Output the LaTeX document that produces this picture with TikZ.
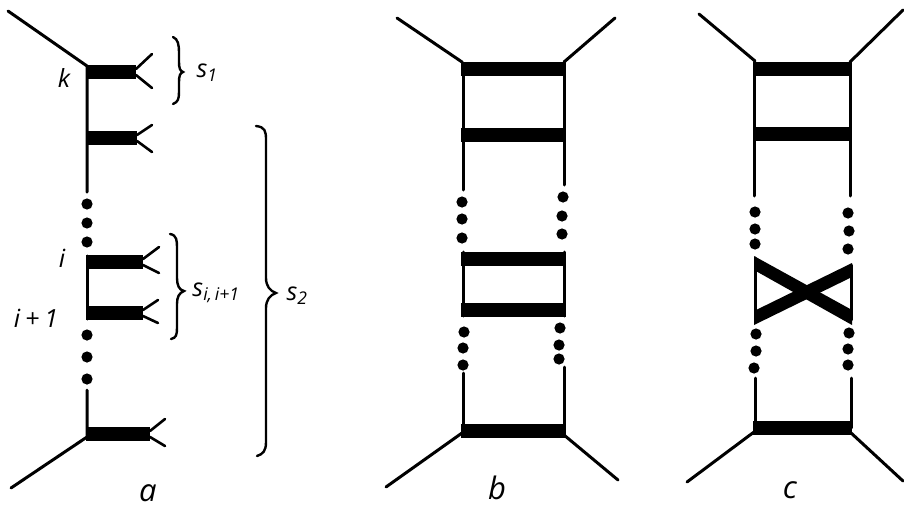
\documentclass[tikz,border=0pt]{standalone}
\usepackage{amsmath, amssymb}
\usepackage{fontspec}
\setmainfont{Open Sans}
\usepackage{tikz}
\usetikzlibrary{calc}

\tikzset{
  leg/.style={line width=3pt, line cap=round},
  rung/.style={line width=13.5pt},
  prong/.style={line width=2.6pt, line cap=round},
  bracket/.style={line width=2.4pt, line cap=round},
  lbl/.style={inner sep=0pt, font=\fontsize{25}{30}\selectfont\itshape},
  caplbl/.style={inner sep=0pt, font=\fontsize{31}{34}\selectfont\itshape},
}

\begin{document}
\begin{tikzpicture}[x=1pt, y=-1pt]
  \useasboundingbox (0,0) rectangle (904,511);
  % ---- diagram a: open ladder with forks
  \coordinate (atl) at (8,11);
  \coordinate (atop) at (87,66);
  \coordinate (amid) at (87,192);
  \coordinate (ai) at (87,256);
  \coordinate (aj) at (87,319);
  \coordinate (alow) at (87,390);
  \coordinate (abot) at (87,437);
  \coordinate (abl) at (11,488);
  \draw[leg] (atl) -- (atop) -- (amid);
  \draw[leg] (ai) -- (aj);
  \draw[leg] (alow) -- (abot) -- (abl);
  % rungs: y, right end, fork tips
  \foreach \name/\y/\xr/\xf/\yu/\yd in {r1/72/136/152/54/88, r2/138/137/152/125/152,
      r3/262/143/159/247/273, r4/313/143/158/300/323, r5/434/150/165/419/446}{
    \coordinate (\name l) at (86,\y);
    \coordinate (\name r) at (\xr,\y);
    \draw[rung] (\name l) -- (\name r);
    \draw[prong] ($(\name r)+(0,-3)$) -- (\xf,\yu);
    \draw[prong] ($(\name r)+(0,3)$) -- (\xf,\yd);
  }
  \foreach \y in {204,223,242,335,357,379}{
    \fill (87,\y) circle (5.6pt);
  }
  % braces
  \draw[bracket] (173,37) .. controls (178,39) and (179,45) .. (179,52) -- (179,62)
    .. controls (179,68) and (180,71) .. (183,72) .. controls (180,73) and (179,76) .. (179,82)
    -- (179,92) .. controls (179,99) and (178,102) .. (173,104);
  \draw[bracket] (170,234) .. controls (177,235) and (177,241) .. (177,248) -- (177,278)
    .. controls (177,285) and (179,290) .. (184,291) .. controls (179,293) and (177,297) .. (177,304)
    -- (177,328) .. controls (177,335) and (176,338) .. (171,339);
  \draw[bracket] (256,126) .. controls (265,127) and (266,131) .. (266,140) -- (266,278)
    .. controls (266,286) and (270,291) .. (276,293) .. controls (270,295) and (266,300) .. (266,308)
    -- (266,442) .. controls (266,451) and (263,454) .. (257,456);
  % labels
  \node[lbl] (lblk) at (64,78) {k};
  \node[lbl] (lblone) at (207,73) {s\textsubscript{1}};
  \node[lbl] (lbli) at (62,258) {i};
  \node[lbl] (lblj) at (36,318) {i\hspace{5pt}+\hspace{5pt}1};
  \node[lbl] (lblij) at (216,293) {s\textsubscript{i,\,i+1}};
  \node[lbl] (lbltwo) at (297,296) {s\textsubscript{2}};
  \node[caplbl] (capa) at (148,493) {a};

  % ---- diagram b: ladder with plain rungs
  \draw[leg] (397,18) -- (462,62);
  \draw[leg] (615,18) -- (564,62);
  \draw[leg] (462,433) -- (386,487);
  \draw[leg] (564,435) -- (618,480);
  \draw[leg] (463,63) -- (463,190) (564,63) -- (564,185);
  \draw[leg] (463,252) -- (463,316) (564,252) -- (564,316);
  \draw[leg] (463,373) -- (463,431) (564,367) -- (564,431);
  \foreach \y in {69,135,259,310,431}{
    \draw[rung] (461,\y) -- (566,\y);
  }
  \foreach \x/\y in {462/202,462/219,462/238,563/197,562/216,562/234,
      464/332,463/348,463/365,560/328,559/345,559/359}{
    \fill (\x,\y) circle (5.6pt);
  }
  \node[caplbl] (capb) at (497,488) {b};

  % ---- diagram c: crossed rungs
  \draw[leg] (699,14) -- (755,61);
  \draw[leg] (903,10) -- (850,62);
  \draw[leg] (754,432) -- (687,482);
  \draw[leg] (850,432) -- (903,481);
  \draw[leg] (754,62) -- (754,196) (850,62) -- (850,196);
  \draw[leg] (755,258) -- (755,322) (851,265) -- (851,320);
  \draw[leg] (755,378) -- (755,428) (851,378) -- (851,428);
  \foreach \y in {69,134,428}{
    \draw[rung] (753,\y) -- (852,\y);
  }
  % crossed rungs as filled bands
  \coordinate (xlt) at (754,256);
  \coordinate (xlb) at (754,311);
  \coordinate (xrt) at (852,263);
  \coordinate (xrb) at (852,310);
  \fill (xlt) -- (xrb) -- ++(0,15) -- ($(xlt)+(0,14)$) -- cycle;
  \fill (xlb) -- (xrt) -- ++(0,14) -- ($(xlb)+(0,14)$) -- cycle;
  \foreach \x/\y in {755/212,755/229,755/244,848/213,849/231,848/249,
      756/334,756/351,754/368,849/333,848/349,848/365}{
    \fill (\x,\y) circle (5.6pt);
  }
  \node[caplbl] (capc) at (790,490) {c};
\end{tikzpicture}
\end{document}
